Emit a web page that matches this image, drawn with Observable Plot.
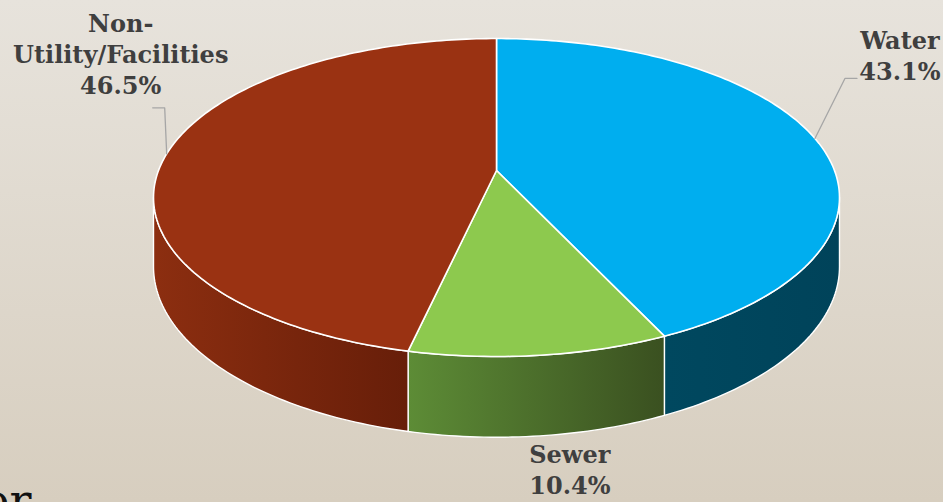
<!DOCTYPE html>
<html>
<head>
<meta charset="utf-8">
<script src="https://cdn.jsdelivr.net/npm/d3@7"></script>
<script src="https://cdn.jsdelivr.net/npm/@observablehq/plot@0.6"></script>
<style>
html, body { margin: 0; padding: 0; width: 943px; height: 502px; overflow: hidden;
  background: linear-gradient(180deg, #e7e3dc 0%, #d7cebf 100%); }
#chart { position: relative; width: 943px; height: 502px; }
#chart svg { display: block; background: none; }
</style>
</head>
<body>
<div id="chart"></div>
<script>
// ---------- data ----------
const categories = ["Water", "Sewer", "Non-Utility/Facilities"];
const shares = [43.1, 10.4, 46.5];
const labelTexts = ["Water\n43.1%", "Sewer\n10.4%", "Non-\nUtility/Facilities\n46.5%"];
const topColors = ["#00aeef", "#8dc94e", "#9a3212"];
const sideLeftColors = ["#00485f", "#5d8c36", "#8c2e10"];
const sideRightColors = ["#00435a", "#3a5020", "#671e09"];
const slideFragment = ["er"];

// ---------- layout ----------
const W = 943, H = 502;
const CX = 496, CY = 170;      // pixel position of pie centre
const A = 338, B = 154.4;      // horizontal / vertical radius scale (px)
const K = 0.17;                // perspective strength
const THICK = 67;              // side thickness (px, before perspective)
// label offsets (px) from slice mid-angle rim point
const labelLayout = [
  {tx: 85, ty: -84, ex: 30, ey: -60, end: 42, leader: true, bottom: false},
  {tx: 30, ty: 33, leader: false, bottom: true},
  {tx: -46, ty: -101, ex: -2, ey: -46, end: -14, leader: true, bottom: false}
];

// ---------- geometry (computed from the data) ----------
const total = d3.sum(shares);
let acc = 0;
const slices = shares.map((v, i) => {
  const a0 = acc / total * 360; acc += v;
  const a1 = acc / total * 360;
  return {i, name: categories[i], a0, a1, mid: (a0 + a1) / 2};
});
const T = THICK / B;
function proj(deg, depth = 0) {
  const t = deg * Math.PI / 180;
  const u = Math.sin(t), v = -Math.cos(t);
  const s = 1 / (1 - K * v);
  return {x: u * s, y: v * s + depth * T * s};
}
function arc(a0, a1, depth) {
  const n = Math.max(2, Math.ceil(Math.abs(a1 - a0)));
  return d3.range(n + 1).map(k => proj(a0 + (a1 - a0) * k / n, depth));
}
const silL = Math.acos(-K) * 180 / Math.PI;  // visible side range
const silR = 360 - silL;

const topPolys = slices.map(s => [{x: 0, y: 0}, ...arc(s.a0, s.a1, 0)]);
const sidePolys = slices.map(s => {
  const b0 = Math.max(s.a0, silL), b1 = Math.min(s.a1, silR);
  if (b1 <= b0) return null;
  return [...arc(b0, b1, 0), ...arc(b1, b0, 1)];
});

const labels = slices.map(s => {
  const L = labelLayout[s.i];
  const r = proj(s.mid, L.bottom ? 1 : 0);
  const lab = {x: r.x + L.tx / A, y: r.y + L.ty / B, text: labelTexts[s.i]};
  let leader = null;
  if (L.leader) {
    leader = [
      {x: r.x, y: r.y},
      {x: r.x + L.ex / A, y: r.y + L.ey / B},
      {x: r.x + L.end / A, y: r.y + L.ey / B}
    ];
  }
  return {lab, leader};
});

// ---------- plot ----------
const marks = [];
sidePolys.forEach((p, i) => {
  if (p) marks.push(Plot.line(p, {x: "x", y: "y", curve: "linear-closed",
    fill: `url(#side${i})`, stroke: "#ffffff", strokeWidth: 1.4, strokeLinejoin: "round"}));
});
topPolys.forEach((p, i) => {
  marks.push(Plot.line(p, {x: "x", y: "y", curve: "linear-closed",
    fill: topColors[i], stroke: "#ffffff", strokeWidth: 1.6, strokeLinejoin: "round"}));
});
labels.forEach(l => {
  if (l.leader) marks.push(Plot.line(l.leader, {x: "x", y: "y", stroke: "#a6a6a6", strokeWidth: 1.3}));
});
marks.push(Plot.text(labels.map(l => l.lab), {x: "x", y: "y", text: "text",
  fontFamily: "DejaVu Serif", fontWeight: "bold", fontSize: 24, lineHeight: 1.29,
  fill: "#3f3f3f", textAnchor: "middle", lineAnchor: "middle"}));
marks.push(Plot.text(slideFragment, {text: d => d, frameAnchor: "bottom-left",
  fontFamily: "DejaVu Serif", fontSize: 46, fill: "#111111", textAnchor: "end",
  lineAnchor: "bottom", dx: 31, dy: 14}));

const svg = Plot.plot({
  width: W, height: H,
  margin: 0,
  x: {type: "linear", domain: [-CX / A, (W - CX) / A], range: [0, W], axis: null},
  y: {type: "linear", domain: [-CY / B, (H - CY) / B], range: [0, H], axis: null},
  style: {background: "none", overflow: "hidden"},
  marks
});

const defs = d3.select(svg).insert("defs", ":first-child");
slices.forEach(s => {
  const g = defs.append("linearGradient").attr("id", `side${s.i}`)
    .attr("x1", "0").attr("y1", "0").attr("x2", "1").attr("y2", "0");
  g.append("stop").attr("offset", "0").attr("stop-color", sideLeftColors[s.i]);
  g.append("stop").attr("offset", "1").attr("stop-color", sideRightColors[s.i]);
});
document.getElementById("chart").appendChild(svg);
</script>
</body>
</html>
